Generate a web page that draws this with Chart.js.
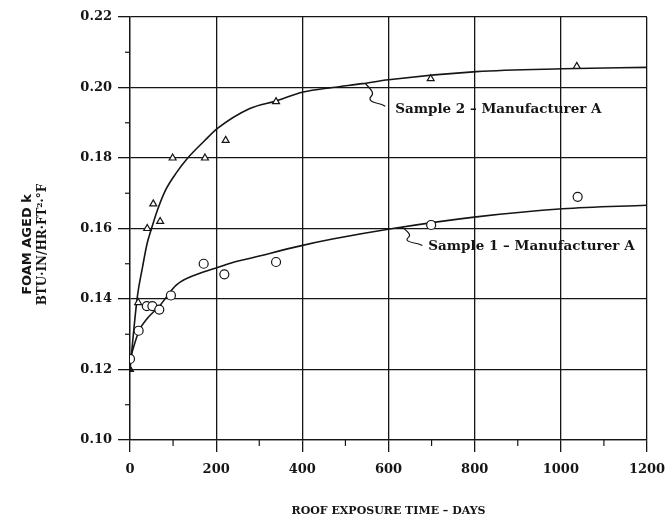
<!DOCTYPE html>
<html>
<head>
<meta charset="utf-8">
<script src="https://cdn.jsdelivr.net/npm/chart.js@4.4.0/dist/chart.umd.min.js"></script>
<style>
  html, body { margin: 0; padding: 0; background: #fff; }
  #wrap { width: 665px; height: 529px; }
</style>
</head>
<body>
<div id="wrap"><canvas id="agingChart" width="665" height="529"></canvas></div>
<script>
const sample2Days = [0, 19, 40, 54, 70, 99, 174, 222, 339, 698, 1037];
const sample2K = [0.120, 0.139, 0.160, 0.167, 0.162, 0.180, 0.180, 0.185, 0.196, 0.2025, 0.206];
const sample1Days = [0, 20, 39, 52, 68, 95, 171, 219, 339, 699, 1039];
const sample1K = [0.123, 0.131, 0.138, 0.138, 0.137, 0.141, 0.150, 0.147, 0.1505, 0.161, 0.169];

// hand drawn fit curves
const fit2Days = [0, 17, 29, 40, 50, 64, 83, 107, 134, 173, 203, 277, 339, 402, 470, 540, 600, 804, 1004, 1200];
const fit2K = [0.120, 0.1406, 0.149, 0.1559, 0.160, 0.1653, 0.171, 0.1757, 0.180, 0.1849, 0.1884, 0.194, 0.1962, 0.1987, 0.200, 0.2011, 0.2022, 0.2045, 0.2053, 0.2057];
const fit1Days = [0, 21, 40, 67, 108, 172, 200, 242, 277, 393, 470, 610, 804, 1004, 1200];
const fit1K = [0.123, 0.131, 0.1345, 0.1378, 0.144, 0.1477, 0.1488, 0.1505, 0.1515, 0.155, 0.157, 0.160, 0.1633, 0.1656, 0.1666];

const xTicks = [0, 200, 400, 600, 800, 1000, 1200];
const xMinorTicks = [100, 300, 500, 700, 900, 1100];
const yTicks = [0.10, 0.12, 0.14, 0.16, 0.18, 0.20, 0.22];
const yMinorTicks = [0.11, 0.13, 0.15, 0.17, 0.19, 0.21];

const sample2Label = 'Sample 2 – Manufacturer A';
const sample1Label = 'Sample 1 – Manufacturer A';
const xTitle = 'ROOF EXPOSURE TIME – DAYS';
const yTitle1 = 'FOAM AGED k';
const yTitle2 = 'BTU·IN/HR·FT²·°F';

const SERIF = '"DejaVu Serif", "Liberation Serif", serif';
const SANS = '"DejaVu Sans", "Liberation Sans", sans-serif';
const INK = '#151515';

const toXY = (xs, ys) => xs.map((x, i) => ({ x: x, y: ys[i] }));

// squiggly leader line from the curve down to a label
const drawLeader = (ctx, x, y, s) => {
  ctx.beginPath();
  ctx.moveTo(x, y);
  ctx.bezierCurveTo(x + 4 * s, y + 5, x + 10 * s, y + 9, x + 6 * s, y + 13);
  ctx.bezierCurveTo(x + 2 * s, y + 17, x + 8 * s, y + 19, x + 12 * s, y + 20);
  ctx.quadraticCurveTo(x + 17 * s, y + 21, x + 20 * s, y + 23);
  ctx.stroke();
};

const decorations = {
  id: 'decorations',
  afterDatasetsDraw(chart) {
    const { ctx, scales: { x, y }, chartArea } = chart;
    ctx.save();
    ctx.strokeStyle = INK;
    ctx.fillStyle = INK;
    ctx.lineWidth = 1.2;

    // minor ticks
    xMinorTicks.forEach((v) => {
      const px = x.getPixelForValue(v);
      ctx.beginPath();
      ctx.moveTo(px, chartArea.bottom);
      ctx.lineTo(px, chartArea.bottom + 6);
      ctx.stroke();
    });
    yMinorTicks.forEach((v) => {
      const py = y.getPixelForValue(v);
      ctx.beginPath();
      ctx.moveTo(chartArea.left - 5, py);
      ctx.lineTo(chartArea.left, py);
      ctx.stroke();
    });

    // leaders + labels
    const a2x = x.getPixelForValue(546);
    const a2y = y.getPixelForValue(0.2012);
    drawLeader(ctx, a2x, a2y, 1);
    const a1x = x.getPixelForValue(632);
    const a1y = y.getPixelForValue(0.1604);
    ctx.save();
    ctx.translate(a1x, a1y);
    ctx.scale(1, 0.8);
    drawLeader(ctx, 0, 0, 1);
    ctx.restore();

    ctx.font = 'bold 13.5px ' + SERIF;
    ctx.textBaseline = 'middle';
    ctx.textAlign = 'left';
    ctx.fillText(sample2Label, a2x + 30, a2y + 26);
    ctx.fillText(sample1Label, a1x + 26, a1y + 19);

    // y axis title, two lines
    const midY = (chartArea.top + chartArea.bottom) / 2 + 16;
    ctx.textAlign = 'center';
    ctx.save();
    ctx.translate(28, midY);
    ctx.rotate(-Math.PI / 2);
    ctx.font = 'bold 13px ' + SANS;
    ctx.fillText(yTitle1, 0, 0);
    ctx.restore();
    ctx.save();
    ctx.translate(43, midY);
    ctx.rotate(-Math.PI / 2);
    ctx.font = 'bold 12px ' + SERIF;
    ctx.fillText(yTitle2, 0, 0);
    ctx.restore();

    ctx.restore();
  }
};

const renderChart = () => {
  const ctx = document.getElementById('agingChart').getContext('2d');
  new Chart(ctx, {
    type: 'scatter',
    data: {
      datasets: [
        {
          label: 'Sample 2 data',
          data: toXY(sample2Days, sample2K),
          pointStyle: 'triangle',
          pointRadius: 4,
          borderColor: INK,
          backgroundColor: '#fff',
          pointBackgroundColor: (c) => (c.dataIndex === 0 ? INK : '#fff'),
          borderWidth: 1.2,
        },
        {
          label: 'Sample 1 data',
          data: toXY(sample1Days, sample1K),
          pointStyle: 'circle',
          pointRadius: 4.5,
          borderColor: INK,
          backgroundColor: '#fff',
          borderWidth: 1.2,
        },
        {
          label: 'Sample 2 fit',
          data: toXY(fit2Days, fit2K),
          showLine: true,
          pointRadius: 0,
          borderColor: INK,
          borderWidth: 1.6,
          cubicInterpolationMode: 'monotone',
        },
        {
          label: 'Sample 1 fit',
          data: toXY(fit1Days, fit1K),
          showLine: true,
          pointRadius: 0,
          borderColor: INK,
          borderWidth: 1.6,
          cubicInterpolationMode: 'monotone',
        },
      ],
    },
    options: {
      responsive: false,
      animation: false,
      events: [],
      layout: { padding: { left: 0, top: 17, right: 18, bottom: 0 } },
      plugins: {
        legend: { display: false },
        tooltip: { enabled: false },
      },
      scales: {
        x: {
          type: 'linear',
          min: 0,
          max: 1200,
          afterBuildTicks: (scale) => { scale.ticks = xTicks.map((v) => ({ value: v })); },
          afterFit: (scale) => {
            scale.height = 89;
            scale.paddingLeft = 0;
            scale.paddingRight = 0;
          },
          grid: { color: INK, lineWidth: 1.3, tickLength: 12 },
          border: { display: true, color: INK, width: 1.3 },
          ticks: {
            color: INK,
            padding: 10,
            maxRotation: 0,
            callback: (v) => String(v),
            font: { family: SERIF, size: 13, weight: 'bold' },
          },
          title: {
            display: true,
            text: xTitle,
            color: INK,
            padding: { top: 0, bottom: 11 },
            font: { family: SERIF, size: 11, weight: 'bold' },
          },
        },
        y: {
          min: 0.10,
          max: 0.22,
          afterBuildTicks: (scale) => { scale.ticks = yTicks.map((v) => ({ value: v })); },
          afterFit: (scale) => {
            scale.width = 130;
            scale.paddingTop = 0;
            scale.paddingBottom = 0;
          },
          grid: { color: INK, lineWidth: 1.3, tickLength: 12 },
          border: { display: true, color: INK, width: 1.3 },
          ticks: {
            color: INK,
            padding: 6,
            callback: (v) => v.toFixed(2),
            font: { family: SERIF, size: 13, weight: 'bold' },
          },
        },
      },
    },
    plugins: [decorations],
  });
};

renderChart();
</script>
</body>
</html>
